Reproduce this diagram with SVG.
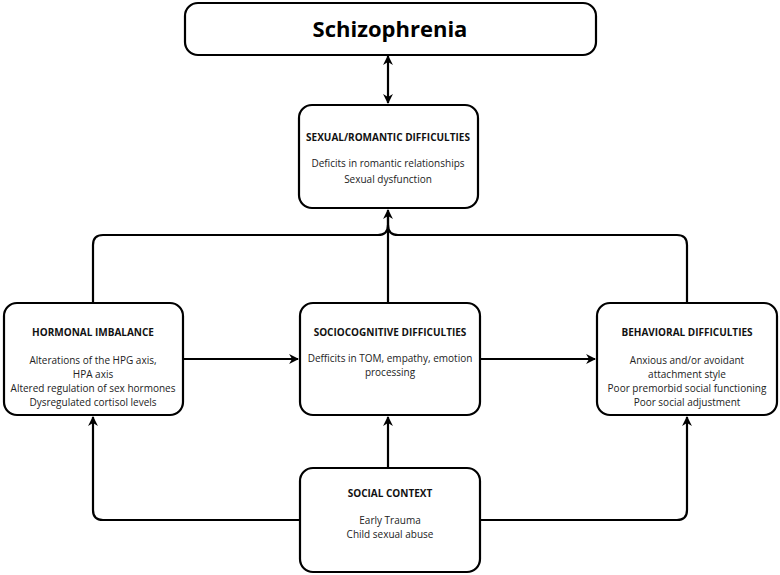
<svg xmlns="http://www.w3.org/2000/svg" width="780" height="575" viewBox="0 0 780 575">
<defs>
<style>
.box{fill:#fff;stroke:#000;stroke-width:2.2}
.ln{fill:none;stroke:#000;stroke-width:2.2}
.t{font-family:"Open Sans","Liberation Sans",sans-serif;font-weight:bold;font-size:10px;fill:#111;text-anchor:middle}
.b{font-family:"Open Sans","Liberation Sans",sans-serif;font-size:10px;fill:#222;text-anchor:middle}
.h{font-family:"Open Sans","Liberation Sans",sans-serif;font-weight:bold;font-size:22px;fill:#000;text-anchor:middle}
</style>
<marker id="ah" viewBox="0 0 10 10" refX="9" refY="5" markerWidth="4.5" markerHeight="4.5" orient="auto-start-reverse" markerUnits="strokeWidth">
<path d="M0,0 L10,5 L0,10 L3,5 Z" fill="#000"/>
</marker>
</defs>
<rect width="780" height="575" fill="#fff"/>
<g id="connectors">
<line class="ln" x1="388" y1="56" x2="388" y2="103" marker-start="url(#ah)" marker-end="url(#ah)"/>
<path class="ln" d="M93,303 V245 Q93,235 103,235 H378 Q388,235 388,225 V210" marker-end="url(#ah)"/>
<path class="ln" d="M687,303 V245 Q687,235 677,235 H398 Q388,235 388,225"/>
<line class="ln" x1="388" y1="303" x2="388" y2="215"/>
<line class="ln" x1="183" y1="359" x2="298" y2="359" marker-end="url(#ah)"/>
<line class="ln" x1="480" y1="359" x2="595" y2="359" marker-end="url(#ah)"/>
<line class="ln" x1="388" y1="468" x2="388" y2="417" marker-end="url(#ah)"/>
<path class="ln" d="M300,520 H103 Q93,520 93,510 V417" marker-end="url(#ah)"/>
<path class="ln" d="M480,520 H677 Q687,520 687,510 V417" marker-end="url(#ah)"/>
</g>
<g id="schizophrenia">
<rect class="box" x="185" y="3" width="411" height="52" rx="13"/>
<text class="h" x="390" y="37">Schizophrenia</text>
</g>
<g id="sexual">
<rect class="box" x="299" y="105" width="179" height="103" rx="13"/>
<text class="t" x="388" y="141">SEXUAL/ROMANTIC DIFFICULTIES</text>
<text class="b" x="388" y="167">Deficits in romantic relationships</text>
<text class="b" x="388" y="183">Sexual dysfunction</text>
</g>
<g id="hormonal">
<rect class="box" x="4" y="303" width="179" height="112" rx="13"/>
<text class="t" x="93" y="336">HORMONAL IMBALANCE</text>
<text class="b" x="93" y="364">Alterations of the HPG axis,</text>
<text class="b" x="93" y="378">HPA axis</text>
<text class="b" x="93" y="392">Altered regulation of sex hormones</text>
<text class="b" x="93" y="406">Dysregulated cortisol levels</text>
</g>
<g id="sociocognitive">
<rect class="box" x="300" y="303" width="180" height="112" rx="13"/>
<text class="t" x="390" y="336">SOCIOCOGNITIVE DIFFICULTIES</text>
<text class="b" x="390" y="362">Defficits in TOM, empathy, emotion</text>
<text class="b" x="390" y="376">processing</text>
</g>
<g id="behavioral">
<rect class="box" x="597" y="303" width="180" height="112" rx="13"/>
<text class="t" x="687" y="336">BEHAVIORAL DIFFICULTIES</text>
<text class="b" x="687" y="364">Anxious and/or avoidant</text>
<text class="b" x="687" y="378">attachment style</text>
<text class="b" x="687" y="392">Poor premorbid social functioning</text>
<text class="b" x="687" y="406">Poor social adjustment</text>
</g>
<g id="social">
<rect class="box" x="300" y="468" width="180" height="104" rx="13"/>
<text class="t" x="390" y="497">SOCIAL CONTEXT</text>
<text class="b" x="390" y="524">Early Trauma</text>
<text class="b" x="390" y="538">Child sexual abuse</text>
</g>
</svg>
